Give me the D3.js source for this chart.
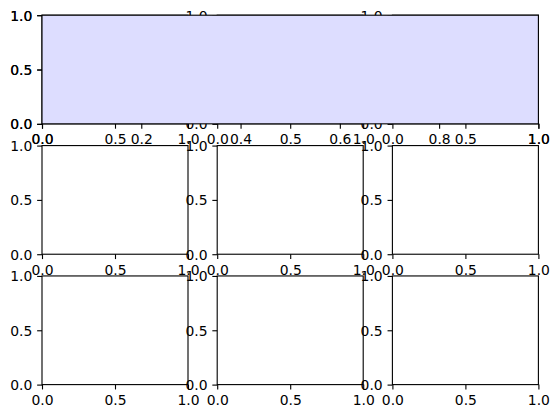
<!DOCTYPE html>
<html>
<head>
<meta charset="utf-8">
<script src="https://cdn.jsdelivr.net/npm/d3@7"></script>
<style>
  html, body { margin: 0; padding: 0; background: #ffffff; }
  svg { display: block; }
</style>
</head>
<body>
<svg id="chart" width="558" height="418"></svg>
<script>
// ---- data (tick values / labels) ----
const gridRows = [0, 1, 2];
const gridCols = [0, 1, 2];
const gridXTicks = [0.0, 0.5, 1.0];
const gridYTicks = [0.0, 0.5, 1.0];
const wideXTicks = [0.0, 0.2, 0.4, 0.6, 0.8, 1.0];
const wideYTicks = [0.0, 0.5, 1.0];
const axisDomain = [0, 1];
const wideFace = "#ddddff";

// ---- layout ----
const svg = d3.select("#chart");
const figLeft = 42, figRight = 538.4, figTop = 15.2, figBottom = 384.6;
const wspace = 0.2, hspace = 0.2;
const cw = (figRight - figLeft) / (3 + 2 * wspace);
const ch = (figBottom - figTop) / (3 + 2 * hspace);
const fontSize = 13.9;
const tickLen = 4.86;
const lw = 1.11;

function drawAxes(g, x0, y0, w, h, xt, yt, face) {
  const x = d3.scaleLinear().domain(axisDomain).range([x0, x0 + w]);
  const y = d3.scaleLinear().domain(axisDomain).range([y0 + h, y0]);
  g.append("rect").attr("x", x0).attr("y", y0).attr("width", w).attr("height", h)
    .attr("fill", face);
  const fmt = d3.format(".1f");
  const ax = g.append("g").attr("transform", `translate(0,${y0 + h})`)
    .call(d3.axisBottom(x).tickValues(xt).tickFormat(fmt).tickSize(tickLen).tickSizeOuter(0).tickPadding(5.6));
  const ay = g.append("g").attr("transform", `translate(${x0},0)`)
    .call(d3.axisLeft(y).tickValues(yt).tickFormat(fmt).tickSize(tickLen).tickSizeOuter(0).tickPadding(4.86));
  [ax, ay].forEach(a => {
    a.select(".domain").remove();
    a.selectAll("line").attr("stroke", "#000").attr("stroke-width", lw);
    a.selectAll("text").attr("font-family", "DejaVu Sans, sans-serif")
      .attr("font-size", fontSize).attr("fill", "#000");
  });
  ay.selectAll("text").attr("dy", "0.36em");
  g.append("rect").attr("x", x0).attr("y", y0).attr("width", w).attr("height", h)
    .attr("fill", "none").attr("stroke", "#000").attr("stroke-width", lw);
}

// 3x3 grid of subplots
gridRows.forEach(r => {
  gridCols.forEach(c => {
    const x0 = figLeft + c * cw * (1 + wspace);
    const y0 = figTop + r * ch * (1 + hspace);
    drawAxes(svg.append("g"), x0, y0, cw, ch, gridXTicks, gridYTicks, "#ffffff");
  });
});

// wide axes over the top row
drawAxes(svg.append("g"), figLeft, figTop, figRight - figLeft, ch, wideXTicks, wideYTicks, wideFace);
</script>
</body>
</html>
